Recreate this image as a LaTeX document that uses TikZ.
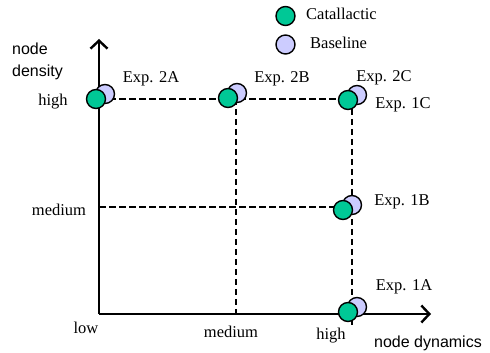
\documentclass[tikz,border=0pt]{standalone}
\usepackage{fontspec}
\setmainfont{Liberation Serif}
\setsansfont{Liberation Sans}
\usepackage{tikz}
\usetikzlibrary{arrows.meta}

\definecolor{catalgreen}{RGB}{0,200,150}
\definecolor{baselilac}{RGB}{204,204,255}

\tikzset{
  axisline/.style={line width=2.8pt, -{Straight Barb[length=8pt,width=17pt,line width=2.4pt]}},
  gridline/.style={line width=2.5pt, dash pattern=on 6.5pt off 3.5pt},
  catal/.style={circle, draw, line width=1.4pt, fill=catalgreen, minimum size=19pt, inner sep=0pt},
  basel/.style={circle, draw, line width=1.4pt, fill=baselilac, minimum size=19pt, inner sep=0pt},
  lbl/.style={font=\fontsize{16.5}{20}\selectfont, inner sep=0pt},
  axlbl/.style={font=\sffamily\fontsize{16}{22}\selectfont, inner sep=0pt}
}

\begin{document}
\begin{tikzpicture}[x=1pt,y=1pt]

    \useasboundingbox (0,0) rectangle (490,353);

    % axes
    \coordinate (origin) at (99,39);
    \coordinate (ytip) at (99,314);
    \coordinate (xtip) at (431,39);

    \draw[axisline] (origin) -- (ytip);
    \draw[axisline] (origin) -- (xtip);

    % grid
    \coordinate (yhigh) at (99,254);
    \coordinate (ymed) at (99,146);
    \coordinate (xmed) at (236,39);
    \coordinate (hmed) at (236,254);
    \coordinate (hhigh) at (352,254);
    \coordinate (mhigh) at (352,146);
    \coordinate (hend) at (352,26);

    \draw[gridline] (yhigh) -- (hhigh);
    \draw[gridline] (hmed) -- (xmed);
    \draw[gridline] (hhigh) -- (hend);
    \draw[gridline] (ymed) -- (mhigh);

    % experiments
    \node[basel] (b2A) at (105,259) {};
    \node[catal] (c2A) at (96,254) {};

    \node[basel] (b2B) at (237,260) {};
    \node[catal] (c2B) at (228,255) {};

    \node[basel] (b2C) at (357,258) {};
    \node[catal] (c2C) at (348,253) {};

    \node[basel] (b1B) at (352,148) {};
    \node[catal] (c1B) at (343,143) {};

    \node[basel] (b1A) at (357,46) {};
    \node[catal] (c1A) at (348,41) {};

    \node[lbl] (e2A) at (151,274) {Exp. 2A};
    \node[lbl] (e2B) at (282,274) {Exp. 2B};
    \node[lbl] (e2C) at (384,275) {Exp. 2C};
    \node[lbl] (e1C) at (403,248) {Exp. 1C};
    \node[lbl] (e1B) at (402,151) {Exp. 1B};
    \node[lbl] (e1A) at (404,66) {Exp. 1A};

    % axis labels
    \node[axlbl, anchor=west, align=left] (ylabel) at (12,292) {node\\density};
    \node[axlbl] (xlabel) at (428,10) {node dynamics};

    \node[lbl] (yhighlbl) at (53,251) {high};
    \node[lbl] (ymedlbl) at (59,143) {medium};
    \node[lbl] (xlowlbl) at (86,25) {low};
    \node[lbl] (xmedlbl) at (231,21) {medium};
    \node[lbl] (xhighlbl) at (331,17) {high};

    % legend
    \node[catal] (legc) at (285.5,337) {};
    \node[basel] (legb) at (285.5,308.5) {};
    \node[lbl, anchor=west] (legctext) at (306,339) {Catallactic};
    \node[lbl, anchor=west] (legbtext) at (310,310) {Baseline};

\end{tikzpicture}
\end{document}
